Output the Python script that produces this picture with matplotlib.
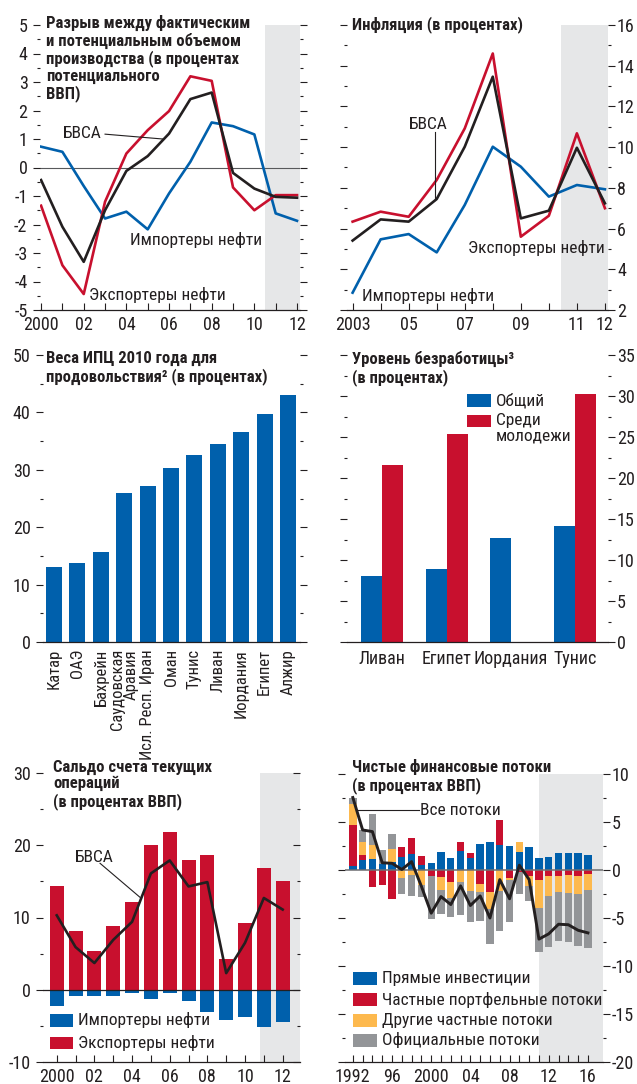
import numpy as np
import matplotlib
matplotlib.use("Agg")
import matplotlib.pyplot as plt
from matplotlib import font_manager
from matplotlib.patches import Rectangle
from matplotlib.ticker import MultipleLocator

# ---------------------------------------------------------------- data
gap_years = list(range(2000, 2013))
gap_oil_importers = [0.73, 0.55, -0.65, -1.79, -1.55, -2.17, -0.91, 0.20, 1.58, 1.45, 1.16, -1.61, -1.87]
gap_mena = [-0.44, -2.08, -3.31, -1.50, -0.12, 0.40, 1.19, 2.40, 2.63, -0.19, -0.74, -1.03, -1.06]
gap_oil_exporters = [-1.34, -3.43, -4.44, -1.20, 0.49, 1.31, 1.98, 3.20, 3.04, -0.70, -1.50, -0.97, -0.97]
gap_tick_labels = ["2000", "02", "04", "06", "08", "10", "12"]

infl_years = list(range(2003, 2013))
infl_oil_importers = [2.85, 5.47, 5.73, 4.83, 7.16, 10.02, 9.04, 7.57, 8.14, 7.93]
infl_mena = [5.41, 6.45, 6.34, 7.45, 10.02, 13.46, 6.50, 6.88, 9.97, 7.24]
infl_oil_exporters = [6.34, 6.83, 6.58, 8.39, 10.92, 14.60, 5.60, 6.63, 10.68, 7.00]
infl_tick_years = [2003, 2005, 2007, 2009, 2011, 2012]
infl_tick_labels = ["2003", "05", "07", "09", "11", "12"]

cpi_countries = ["Катар", "ОАЭ", "Бахрейн", "Саудовская\nАравия", "Исл. Респ. Иран",
                 "Оман", "Тунис", "Ливан", "Иордания", "Египет", "Алжир"]
cpi_food_weight = [13.0, 13.7, 15.6, 25.9, 27.2, 30.3, 32.6, 34.5, 36.6, 39.7, 43.0]

unemp_countries = ["Ливан", "Египет", "Иордания", "Тунис"]
unemp_total = [8.0, 8.9, 12.7, 14.2]
unemp_youth = [21.6, 25.4, np.nan, 30.2]

ca_years = list(range(2000, 2013))
ca_oil_exporters = [14.4, 8.2, 5.3, 8.8, 12.1, 20.0, 21.9, 17.9, 18.7, 4.2, 9.2, 16.8, 15.0]
ca_oil_importers = [-2.2, -0.8, -0.8, -0.8, -0.4, -1.3, -0.5, -1.6, -3.1, -4.2, -3.8, -5.2, -4.5]
ca_mena = [10.3, 5.9, 3.7, 6.9, 9.4, 16.1, 17.9, 14.3, 14.9, 2.3, 6.5, 12.7, 11.1]
ca_tick_labels = ["2000", "02", "04", "06", "08", "10", "12"]

flow_years = list(range(1992, 2017))
flow_fdi = [0.40, 1.05, 1.15, 0.60, 0.80, 1.40, 1.70, 0.57, 0.75, 1.90, 1.30, 2.00, 1.25,
            2.70, 2.95, 2.65, 2.50, 1.83, 2.35, 1.30, 1.40, 1.72, 1.72, 1.72, 1.58]
flow_portfolio = [4.30, 0.50, -1.80, -1.55, -3.05, 1.00, 1.65, 0.85, -0.60, -0.78, -1.30, 0.95, 0.55,
                  -1.50, -2.25, 2.55, -0.85, -0.20, -0.60, -1.05, -0.60, -0.60, -0.50, -0.60, -0.38]
flow_other_private = [2.15, 1.40, 1.50, 0.00, 1.35, -0.80, -0.50, -1.55, 0.00, -1.32, -1.58, -1.30, -2.15,
                      -0.80, -1.80, -2.20, -0.15, 1.12, -1.05, -2.90, -2.07, -1.65, -1.85, -1.92, -1.75]
flow_official = [0.70, 1.20, 3.20, 1.50, 1.55, -1.65, -2.20, -1.30, -4.50, -2.50, -2.00, -3.35, -3.30,
                 -3.05, -3.70, -4.20, -4.45, -2.25, -1.60, -4.55, -5.40, -5.10, -5.10, -5.35, -5.95]
flow_total = [7.55, 4.17, 4.00, 0.75, 0.70, 0.05, 0.87, -1.70, -4.50, -2.77, -3.60, -1.65, -3.70,
              -2.70, -5.00, -1.00, -3.00, 0.50, -1.00, -7.20, -6.65, -5.65, -5.70, -6.28, -6.55]
flow_tick_years = [1992, 1996, 2000, 2004, 2008, 2012, 2016]
flow_tick_labels = ["1992", "96", "2000", "04", "08", "12", "16"]

# ---------------------------------------------------------------- style
installed = {f.name for f in font_manager.fontManager.ttflist}
FAMILY = [n for n in ("Roboto Condensed", "Liberation Sans", "DejaVu Sans") if n in installed]
plt.rcParams["font.family"] = FAMILY
plt.rcParams["axes.unicode_minus"] = False

BLUE = "#0060AC"
RED = "#C8102E"
YELLOW = "#FDB94E"
GREY = "#939598"
SHADE = "#E6E7E8"
INK = "#231F20"

W, H, DPI = 637, 1084, 100
TICK_FS = 13
TEXT_FS = 12.5
TITLE_FS = 12

fig = plt.figure(figsize=(W / DPI, H / DPI), dpi=DPI)


def make_axes(box, xlim, ylim, label_side, ymaj, ymin, other_dir="out", pad=4):
    left, top, right, bottom = box
    ax = fig.add_axes([left / W, 1 - bottom / H, (right - left) / W, (bottom - top) / H])
    ax.set_xlim(*xlim)
    ax.set_ylim(*ylim)
    for s in ("top", "left", "right"):
        ax.spines[s].set_visible(False)
    ax.spines["bottom"].set_color(INK)
    ax.spines["bottom"].set_linewidth(0.9)
    ax.yaxis.set_major_locator(MultipleLocator(ymaj))
    ax.yaxis.set_minor_locator(MultipleLocator(ymin))
    ax.yaxis.set_ticks_position(label_side)
    ax.tick_params(axis="y", which="both", direction="out", color=INK, width=0.8,
                   labelsize=TICK_FS, labelcolor=INK, pad=pad)
    ax.tick_params(axis="y", which="major", length=5)
    ax.tick_params(axis="y", which="minor", length=2.5)
    other = "right" if label_side == "left" else "left"
    sec = ax.secondary_yaxis(other)
    for sp in sec.spines.values():
        sp.set_visible(False)
    sec.yaxis.set_major_locator(MultipleLocator(ymaj))
    sec.yaxis.set_minor_locator(MultipleLocator(ymin))
    sec.tick_params(axis="y", which="both", direction=other_dir, color=INK, width=0.8,
                    labelleft=False, labelright=False)
    sec.tick_params(axis="y", which="major", length=5)
    sec.tick_params(axis="y", which="minor", length=2.5)
    return ax


def year_axis(ax, years, major, labels):
    ax.set_xticks(years, minor=True)
    ax.set_xticks(major, labels)
    ax.tick_params(axis="x", which="both", direction="in", length=5, width=0.8, color=INK,
                   labelsize=TICK_FS, labelcolor=INK, pad=4)


def title(x, y, s):
    fig.text(x / W, 1 - y / H, s, ha="left", va="top", fontsize=TITLE_FS,
             fontweight="bold", color=INK, linespacing=1.12)


def key(x, yc, color, text, w=24, h=12.5):
    fig.add_artist(Rectangle((x / W, 1 - (yc + h / 2) / H), w / W, h / H,
                             transform=fig.transFigure, color=color, lw=0))
    if text:
        fig.text((x + w + 5) / W, 1 - yc / H, text, ha="left", va="center",
                 fontsize=TEXT_FS, color=INK, linespacing=1.0)


# ------------------------------------------------- output gap
ax1 = make_axes((40, 25, 300, 310), (1999.95, 2012.14), (-5, 5), "left", 1, 0.5)
ax1.axvspan(2010.5, 2012.14, color=SHADE, lw=0, zorder=0)
ax1.axhline(0, color="#58595B", lw=0.8, zorder=1)
ax1.plot(gap_years, gap_oil_importers, color=BLUE, lw=1.9, zorder=3)
ax1.plot(gap_years, gap_oil_exporters, color=RED, lw=1.9, zorder=3)
ax1.plot(gap_years, gap_mena, color=INK, lw=1.9, zorder=4)
year_axis(ax1, gap_years, gap_years[::2], gap_tick_labels)
ax1.text(2001.03, 1.21, "БВСА", fontsize=TEXT_FS, color=INK, ha="left", va="center")
ax1.plot([2003.0, 2005.7], [1.17, 1.0], color=INK, lw=0.8, zorder=5)
ax1.text(2004.17, -2.54, "Импортеры нефти", fontsize=TEXT_FS, color=INK, ha="left", va="center")
ax1.text(2002.25, -4.47, "Экспортеры нефти", fontsize=TEXT_FS, color=INK, ha="left", va="center")
title(46, 15, "Разрыв между фактическим\nи потенциальным объемом\nпроизводства (в процентах\nпотенциального\nВВП)")

# ------------------------------------------------- inflation
ax2 = make_axes((347, 25, 608, 310), (2002.8, 2012.11), (2, 16), "right", 2, 1, pad=1.5)
ax2.axvspan(2010.42, 2012.11, color=SHADE, lw=0, zorder=0)
ax2.plot(infl_years, infl_oil_importers, color=BLUE, lw=1.9, zorder=3)
ax2.plot(infl_years, infl_oil_exporters, color=RED, lw=1.9, zorder=3)
ax2.plot(infl_years, infl_mena, color=INK, lw=1.9, zorder=4)
year_axis(ax2, infl_years, infl_tick_years, infl_tick_labels)
ax2.text(2005.01, 11.09, "БВСА", fontsize=TEXT_FS, color=INK, ha="left", va="center")
ax2.plot([2005.94, 2005.94], [10.74, 7.4], color=INK, lw=0.8, zorder=5)
ax2.text(2007.12, 5.05, "Экспортеры нефти", fontsize=TEXT_FS, color=INK, ha="left", va="center")
ax2.text(2003.33, 2.69, "Импортеры нефти", fontsize=TEXT_FS, color=INK, ha="left", va="center")
title(352, 16, "Инфляция (в процентах)")

# ------------------------------------------------- CPI food weights
ax3 = make_axes((43, 355, 300, 642), (-0.47, 10.51), (0, 50), "left", 10, 5)
xs = np.arange(len(cpi_countries))
ax3.bar(xs, cpi_food_weight, width=0.68, color=BLUE, lw=0, zorder=2)
ax3.set_xticks(xs, cpi_countries, rotation=90, fontsize=12, color=INK, linespacing=0.85)
ax3.tick_params(axis="x", length=0, pad=5)
for lab in ax3.get_xticklabels():
    lab.set_multialignment("right")
title(46, 351, "Веса ИПЦ 2010 года для\nпродовольствия² (в процентах)")

# ------------------------------------------------- unemployment
ax4 = make_axes((347, 355, 608, 642), (-0.55, 3.51), (0, 35), "right", 5, 2.5, pad=1.5)
gx = np.arange(len(unemp_countries))
bw = 0.327
ax4.bar(gx - bw / 2, unemp_total, width=bw, color=BLUE, lw=0, zorder=2)
youth = np.asarray(unemp_youth, dtype=float)
has_youth = ~np.isnan(youth)
ax4.bar(gx[has_youth] + bw / 2, youth[has_youth], width=bw, color=RED, lw=0, zorder=2)
ax4.set_xticks(gx, unemp_countries, fontsize=TICK_FS, color=INK)
ax4.tick_params(axis="x", length=0, pad=6)
title(352, 351, "Уровень безработицы³\n(в процентах)")
key(467, 400.5, BLUE, "Общий")
key(467, 421, RED, "")
fig.text(496 / W, 1 - 413 / H, "Среди\nмолодежи", ha="left", va="top", fontsize=TEXT_FS,
         color=INK, linespacing=1.05)

# ------------------------------------------------- current account
ax5 = make_axes((43, 773, 300, 1062), (1999.27, 2012.92), (-10, 30), "left", 10, 5, other_dir="in")
ax5.axvspan(2010.8, 2012.92, color=SHADE, lw=0, zorder=0)
ax5.bar(ca_years, ca_oil_exporters, width=0.74, color=RED, lw=0, zorder=2)
ax5.bar(ca_years, ca_oil_importers, width=0.74, color=BLUE, lw=0, zorder=2)
ax5.axhline(0, color=INK, lw=0.9, zorder=3)
ax5.plot(ca_years, ca_mena, color=INK, lw=1.9, zorder=4)
year_axis(ax5, ca_years, ca_years[::2], ca_tick_labels)
ax5.text(2000.97, 18.3, "БВСА", fontsize=TEXT_FS, color=INK, ha="left", va="center")
ax5.plot([2002.3, 2004.42], [17.5, 12.8], color=INK, lw=0.8, zorder=5)
title(53, 759.5, "Сальдо счета текущих\nопераций\n(в процентах ВВП)")
key(50, 1020.5, BLUE, "Импортеры нефти", w=23)
key(50, 1043, RED, "Экспортеры нефти", w=23)

# ------------------------------------------------- net financial flows
ax6 = make_axes((345, 774, 603, 1062), (1991.2, 2017.54), (-20, 10), "right", 5, 2.5,
                other_dir="out", pad=1.5)
ax6.axvspan(2011.0, 2017.54, color=SHADE, lw=0, zorder=0)
# stacked components: positives build upward, negatives downward
pos_base = np.zeros(len(flow_years))
neg_base = np.zeros(len(flow_years))
for vals, col in ((flow_fdi, BLUE), (flow_portfolio, RED),
                  (flow_other_private, YELLOW), (flow_official, GREY)):
    v = np.asarray(vals, dtype=float)
    base = np.where(v >= 0, pos_base, neg_base)
    ax6.bar(flow_years, v, width=0.75, bottom=base, color=col, lw=0, zorder=2)
    pos_base += np.clip(v, 0, None)
    neg_base += np.clip(v, None, 0)
ax6.axhline(0, color="#6D6E71", lw=1.1, zorder=3)
ax6.plot(flow_years, flow_total, color=INK, lw=2.1, zorder=4)
year_axis(ax6, flow_years, flow_tick_years, flow_tick_labels)
ax6.text(1998.87, 6.2, "Все потоки", fontsize=TEXT_FS, color=INK, ha="left", va="center")
ax6.plot([1992.4, 1998.75], [6.2, 6.2], color=INK, lw=0.8, zorder=5)
title(352, 759, "Чистые финансовые потоки\n(в процентах ВВП)")
key(353, 978.5, BLUE, "Прямые инвестиции")
key(353, 999.5, RED, "Частные портфельные потоки")
key(353, 1020.5, YELLOW, "Другие частные потоки")
key(353, 1040.5, GREY, "Официальные потоки")

fig.savefig("out.png", dpi=DPI)
